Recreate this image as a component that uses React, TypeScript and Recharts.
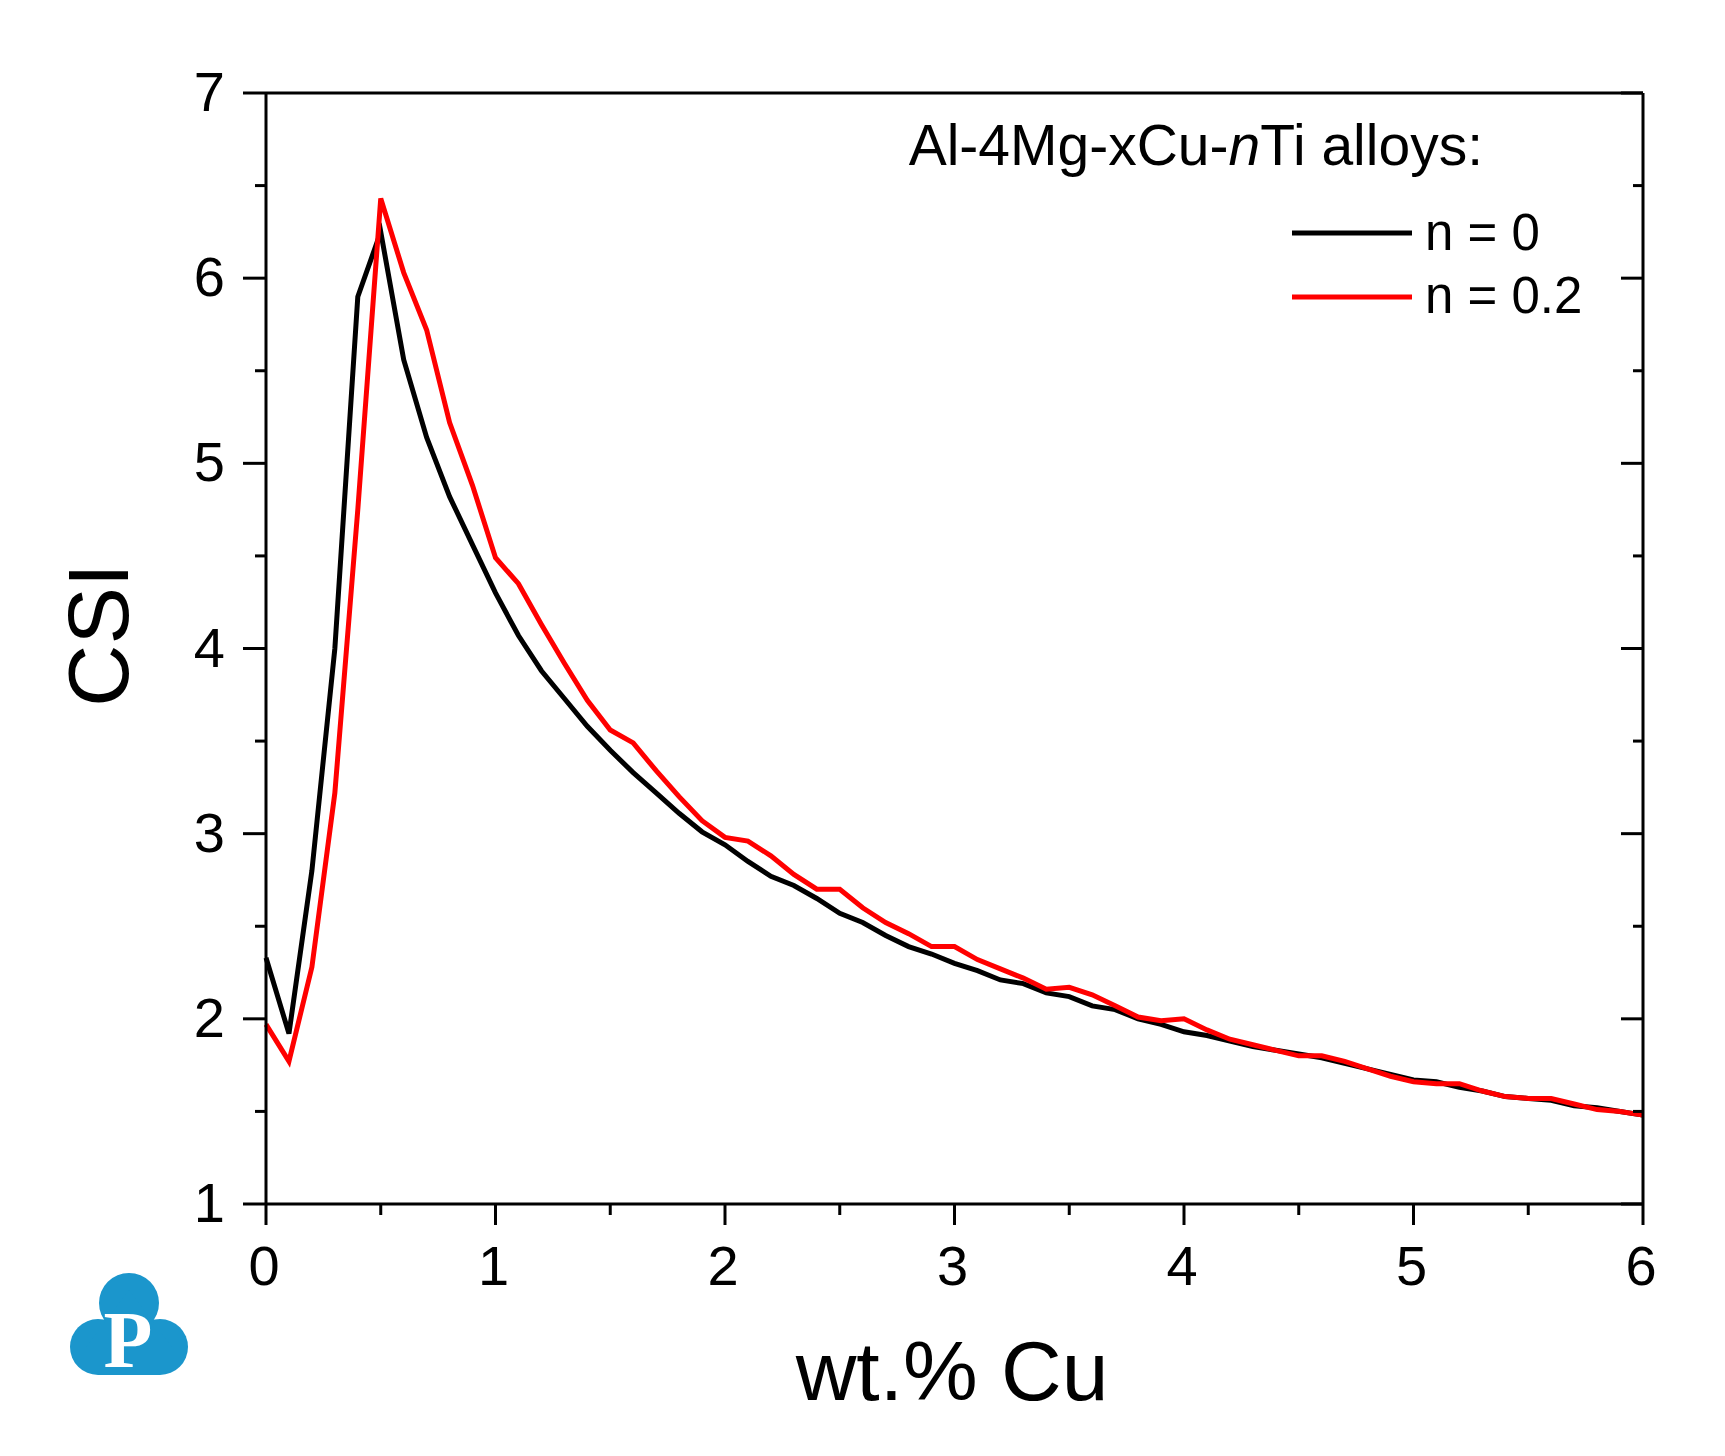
import React from "react";
import { LineChart, Line, XAxis, YAxis } from "recharts";

// wt.% Cu, 0 to 6 in steps of 0.1
const cu = [
  0, 0.1, 0.2, 0.3, 0.4, 0.5, 0.6, 0.7, 0.8, 0.9, 1, 1.1, 1.2, 1.3, 1.4, 1.5,
  1.6, 1.7, 1.8, 1.9, 2, 2.1, 2.2, 2.3, 2.4, 2.5, 2.6, 2.7, 2.8, 2.9, 3, 3.1,
  3.2, 3.3, 3.4, 3.5, 3.6, 3.7, 3.8, 3.9, 4, 4.1, 4.2, 4.3, 4.4, 4.5, 4.6, 4.7,
  4.8, 4.9, 5, 5.1, 5.2, 5.3, 5.4, 5.5, 5.6, 5.7, 5.8, 5.9, 6,
];

// CSI, n = 0
const csiTi0 = [
  2.33, 1.92, 2.8, 4.0, 5.9, 6.25, 5.56, 5.14, 4.82, 4.56, 4.3, 4.07, 3.88,
  3.73, 3.58, 3.45, 3.33, 3.22, 3.11, 3.01, 2.94, 2.85, 2.77, 2.72, 2.65, 2.57,
  2.52, 2.45, 2.39, 2.35, 2.3, 2.26, 2.21, 2.19, 2.14, 2.12, 2.07, 2.05, 2.0,
  1.97, 1.93, 1.91, 1.88, 1.85, 1.83, 1.81, 1.79, 1.76, 1.73, 1.7, 1.67, 1.66,
  1.63, 1.61, 1.58, 1.57, 1.56, 1.53, 1.52, 1.5, 1.48,
];

// CSI, n = 0.2
const csiTi02 = [
  1.97, 1.77, 2.28, 3.22, 4.75, 6.43, 6.03, 5.72, 5.22, 4.88, 4.49, 4.35, 4.13,
  3.92, 3.72, 3.56, 3.49, 3.34, 3.2, 3.07, 2.98, 2.96, 2.88, 2.78, 2.7, 2.7,
  2.6, 2.52, 2.46, 2.39, 2.39, 2.32, 2.27, 2.22, 2.16, 2.17, 2.13, 2.07, 2.01,
  1.99, 2.0, 1.94, 1.89, 1.86, 1.83, 1.8, 1.8, 1.77, 1.73, 1.69, 1.66, 1.65,
  1.65, 1.61, 1.58, 1.57, 1.57, 1.54, 1.51, 1.5, 1.48,
];

const xTicks = [0, 0.5, 1, 1.5, 2, 2.5, 3, 3.5, 4, 4.5, 5, 5.5, 6];
const yTicks = [1, 1.5, 2, 2.5, 3, 3.5, 4, 4.5, 5, 5.5, 6, 6.5, 7];

const data = cu.map((x, i) => ({ x, a: csiTi0[i], b: csiTi02[i] }));

const FONT = '"Liberation Sans", Arial, sans-serif';
const BLUE = "#1b96cc";

const LeftTick = (props: any) => {
  const { x, y, payload } = props;
  const major = Number.isInteger(payload.value);
  return (
    <g>
      <line x1={x - (major ? 23 : 11)} x2={x} y1={y} y2={y} stroke="#000" strokeWidth={3} />
      {major && (
        <text x={x - 41} y={y + 18} textAnchor="end" fontSize={56} fontFamily={FONT} fill="#000">
          {payload.value}
        </text>
      )}
    </g>
  );
};

const RightTick = (props: any) => {
  const { x, y, payload } = props;
  const major = Number.isInteger(payload.value);
  return <line x1={x - (major ? 22 : 10)} x2={x} y1={y} y2={y} stroke="#000" strokeWidth={3} />;
};

const BottomTick = (props: any) => {
  const { x, y, payload } = props;
  const major = Number.isInteger(payload.value);
  return (
    <g>
      <line x1={x} x2={x} y1={y} y2={y + (major ? 21 : 11)} stroke="#000" strokeWidth={3} />
      {major && (
        <text x={x - 2} y={y + 81} textAnchor="middle" fontSize={56} fontFamily={FONT} fill="#000">
          {payload.value}
        </text>
      )}
    </g>
  );
};

const Logo = () => (
  <g>
    <circle cx={129} cy={1303} r={30} fill={BLUE} />
    <circle cx={98} cy={1347} r={28} fill={BLUE} />
    <circle cx={160} cy={1347} r={28} fill={BLUE} />
    <polygon points="129,1290 84,1350 174,1350" fill={BLUE} />
    <rect x={98} y={1325} width={62} height={50} fill={BLUE} />
    <text
      x={128}
      y={1367}
      textAnchor="middle"
      fontSize={80}
      fontWeight="bold"
      fontFamily='"Liberation Serif", "DejaVu Serif", serif'
      fill="#fff"
    >
      P
    </text>
  </g>
);

export default function App() {
  return (
    <div style={{ position: "absolute", left: 0, top: 0, width: 1725, height: 1456, background: "#fff" }}>
      <LineChart
        width={1725}
        height={1456}
        data={data}
        margin={{ top: 92, right: 81, bottom: 251, left: 265 }}
      >
        <XAxis
          dataKey="x"
          type="number"
          domain={[0, 6]}
          ticks={xTicks}
          interval={0}
          height={1}
          tickSize={0}
          tickMargin={0}
          tickLine={false}
          tick={BottomTick}
          axisLine={{ stroke: "#000", strokeWidth: 3 }}
        />
        <XAxis
          xAxisId="top"
          orientation="top"
          dataKey="x"
          type="number"
          domain={[0, 6]}
          height={1}
          tick={false}
          tickLine={false}
          axisLine={{ stroke: "#000", strokeWidth: 3 }}
        />
        <YAxis
          yAxisId="left"
          type="number"
          domain={[1, 7]}
          ticks={yTicks}
          interval={0}
          width={1}
          tickSize={0}
          tickMargin={0}
          tickLine={false}
          tick={LeftTick}
          axisLine={{ stroke: "#000", strokeWidth: 3 }}
        />
        <YAxis
          yAxisId="right"
          orientation="right"
          type="number"
          domain={[1, 7]}
          ticks={yTicks}
          interval={0}
          width={1}
          tickSize={0}
          tickMargin={0}
          tickLine={false}
          tick={RightTick}
          axisLine={{ stroke: "#000", strokeWidth: 3 }}
        />
        <Line
          yAxisId="left"
          type="linear"
          dataKey="a"
          stroke="#000000"
          strokeWidth={5}
          dot={false}
          isAnimationActive={false}
        />
        {/* same [1, 7] domain as the left axis, so the right axis gets its ticks */}
        <Line
          yAxisId="right"
          type="linear"
          dataKey="b"
          stroke="#ff0000"
          strokeWidth={5}
          dot={false}
          isAnimationActive={false}
        />
      </LineChart>
      <svg
        width={1725}
        height={1456}
        style={{ position: "absolute", left: 0, top: 0, pointerEvents: "none" }}
        fontFamily={FONT}
      >
        <text x={1483} y={165} textAnchor="end" fontSize={57} fill="#000">
          Al-4Mg-xCu-<tspan fontStyle="italic">n</tspan>Ti alloys:
        </text>
        <line x1={1292} x2={1412} y1={233} y2={233} stroke="#000" strokeWidth={5} />
        <text x={1425} y={250} fontSize={51} fill="#000">n = 0</text>
        <line x1={1292} x2={1412} y1={297} y2={297} stroke="#ff0000" strokeWidth={5} />
        <text x={1425} y={313} fontSize={51} fill="#000">n = 0.2</text>
        <text x={952} y={1400} textAnchor="middle" fontSize={84} fill="#000">wt.% Cu</text>
        <text
          x={128}
          y={635}
          textAnchor="middle"
          fontSize={86}
          fill="#000"
          transform="rotate(-90 128 635)"
        >
          CSI
        </text>
        <Logo />
      </svg>
    </div>
  );
}
